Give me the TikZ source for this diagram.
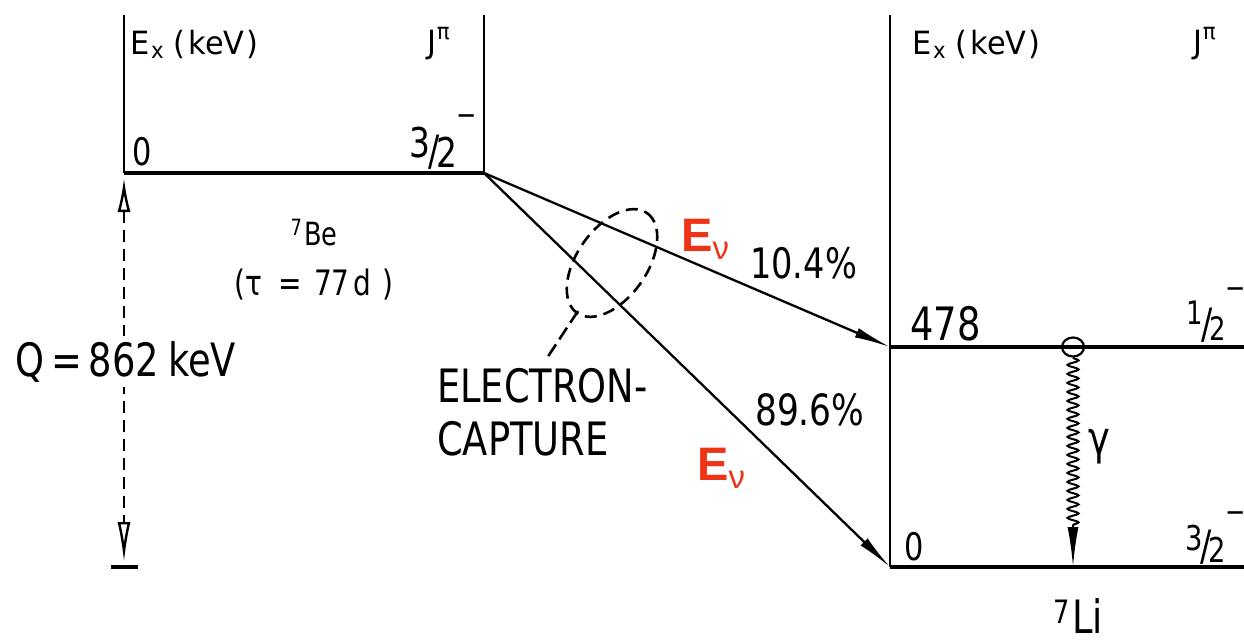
\documentclass[tikz,border=0pt]{standalone}
\usepackage{fontspec}
\setmainfont{DejaVu Sans}[FakeStretch=0.8]
\newfontfamily\hdrfont{DejaVu Sans}[FakeStretch=0.95]
\newfontfamily\redfont{Liberation Sans}
\usetikzlibrary{arrows.meta,decorations.pathmorphing,shapes.geometric}
\definecolor{evred}{RGB}{238,52,22}
% nut fraction: numerator raised, denominator on the baseline, minus as exponent
\newcommand\nutfrac[5]{\raisebox{#3}{\scalebox{#4}{#1}}\kern-0.05em\raisebox{0.05em}{\scalebox{1.1}{/}}\kern-0.08em\scalebox{#4}{#2}\kern-0.02em\raisebox{#5}{\scalebox{0.8}{−}}}
\begin{document}
\begin{tikzpicture}[x=1pt,y=-1pt,
  lvl/.style={line width=3.6pt},
  axis/.style={line width=2.6pt},
  trans/.style={line width=2.3pt,-{Latex[length=36pt,width=10pt]}},
  txt/.style={inner sep=0pt,anchor=base west},
  hdr/.style={txt,font=\hdrfont\fontsize{32}{34}\selectfont},
  lbl/.style={txt,font=\fontsize{38}{40}\selectfont},
  big/.style={txt,font=\fontsize{46}{48}\selectfont},
  ev/.style={txt,text=evred,font=\redfont\bfseries\fontsize{47}{49}\selectfont},
  dsh/.style={line width=2.6pt,dash pattern=on 12pt off 7pt}
]
\useasboundingbox (0,0) rectangle (1244,642);
% ---- 7Be block
\coordinate (beTL) at (124,15);
\coordinate (beL) at (124,173);
\coordinate (beTR) at (484,15);
\coordinate (beR) at (484,173);
\draw[axis] (beTL) -- (beL);
\draw[axis] (beTR) -- (beR);
\draw[lvl] (beL) -- (beR);
\node[hdr] (hx1) at (130,55) {E\kern0.05em\textsubscript{x}\kern0.3em(\kern0.1em keV\kern0.05em)};
\node[hdr] (hj1) at (427,53) {J\kern0.02em\raisebox{0.15em}{\textsuperscript{π}}};
\node[lbl] (be0) at (132,165) {0};
\node[lbl,anchor=base east] (bej) at (477,167) {\nutfrac{3}{2}{0.25em}{1.08}{1.1em}};
\node[inner sep=0pt,anchor=base,font=\fontsize{32}{34}\selectfont] (be) at (314,245) {\textsuperscript{7}\kern0.05em Be};
\node[inner sep=0pt,anchor=base,font=\fontsize{35}{37}\selectfont] (tau) at (314,295) {(τ\kern0.45em=\kern0.35em77\kern0.12em d\kern0.3em)};
% ---- Q arrow
\coordinate (qtop) at (124,178);
\coordinate (qbot) at (124,562);
\coordinate (qbarL) at (111,567);
\coordinate (qbarR) at (138,567);
\draw[dsh,{Latex[open,length=34pt,width=13pt,line width=2.4pt]}-{Latex[open,length=40pt,width=13pt,line width=2.4pt]}] (qtop) -- (qbot);
\draw[line width=3.6pt] (qbarL) -- (qbarR);
\node[big,fill=white,inner ysep=5pt] (q) at (15,376) {Q\kern0.15em=\kern0.15em862\kern0.2em keV};
% ---- 7Li block
\coordinate (liT) at (890,15);
\coordinate (liB) at (890,567);
\coordinate (l1L) at (890,347);
\coordinate (l1R) at (1244,347);
\coordinate (l0R) at (1244,567);
\draw[axis] (liT) -- (liB);
\draw[lvl] (l1L) -- (l1R);
\draw[lvl] (liB) -- (l0R);
\node[hdr] (hx2) at (912,55) {E\kern0.05em\textsubscript{x}\kern0.3em(\kern0.1em keV\kern0.05em)};
\node[hdr] (hj2) at (1193,53) {J\kern0.02em\raisebox{0.15em}{\textsuperscript{π}}};
\node[big] (e1) at (910,340) {478};
\node[lbl,anchor=base east] (j1) at (1246,340) {\nutfrac{1}{2}{0.42em}{0.85}{1.1em}};
\node[lbl] (e0) at (904,560) {0};
\node[lbl,anchor=base east] (j0) at (1246,562) {\nutfrac{3}{2}{0.3em}{0.9}{1.05em}};
% ---- gamma
\node[draw,line width=2.2pt,ellipse,minimum width=22pt,minimum height=19pt,inner sep=0pt] (gc) at (1073,347) {};
\coordinate (gs) at (1073,527);
\coordinate (gt) at (1073,567);
\draw[line width=2pt,decorate,decoration={snake,segment length=9pt,amplitude=5.5pt}] (gc.south) -- (gs);
\draw[line width=2.2pt,-{Latex[length=40pt,width=11pt]}] (gs) -- (gt);
\node[txt,font=\fontsize{46}{48}\selectfont] (gam) at (1088,454) {γ};
\node[inner sep=0pt,anchor=base,font=\fontsize{46}{48}\selectfont] (li) at (1078,633) {\textsuperscript{7}\kern0.05em Li};
% ---- transitions
\draw[trans] (beR) -- (l1L);
\draw[trans] (beR) -- (liB);
\node[lbl,font=\fontsize{42}{44}\selectfont] (p1) at (750,278) {10.4\%};
\node[lbl,font=\fontsize{43}{45}\selectfont] (p2) at (755,425) {89.6\%};
\node[ev] (ev1) at (681,251) {E\textsubscript{\mdseries ν}};
\node[ev] (ev2) at (697,480) {E\textsubscript{\mdseries ν}};
% ---- electron capture
\draw[dsh,rotate around={55:(612,263)}] (612,263) ellipse [x radius=61,y radius=35];
\coordinate (ecA) at (578,311);
\coordinate (ecB) at (547,358);
\draw[dsh,dash pattern=on 14pt off 6pt] (ecA) -- (ecB);
\node[big] (ec1) at (437,402) {ELECTRON-};
\node[big] (ec2) at (437,455) {CAPTURE};
\end{tikzpicture}
\end{document}
